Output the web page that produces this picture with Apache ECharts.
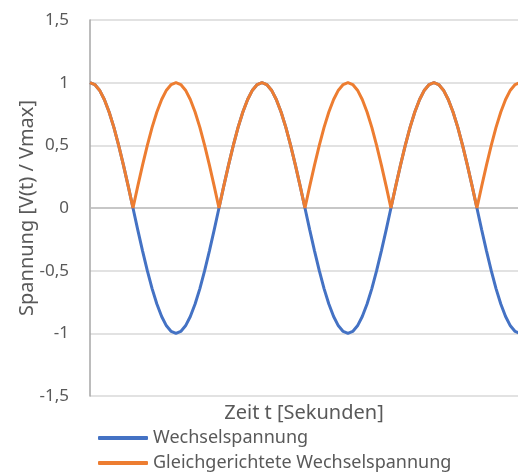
<!DOCTYPE html>
<html>
<head>
<meta charset="utf-8">
<script src="https://cdn.jsdelivr.net/npm/echarts@6/dist/echarts.min.js"></script>
<style>html,body{margin:0;padding:0;background:#fff}#c{width:518px;height:476px}</style>
</head>
<body>
<div id="c"></div>
<script>
// Zeit (Phasenwinkel in Grad, Periode = 360)
var zeit = [0,10,20,30,40,50,60,70,80,90,100,110,120,130,140,150,160,170,180,
  190,200,210,220,230,240,250,260,270,280,290,300,310,320,330,340,350,360,
  370,380,390,400,410,420,430,440,450,460,470,480,490,500,510,520,530,540,
  550,560,570,580,590,600,610,620,630,640,650,660,670,680,690,700,710,720,
  730,740,750,760,770,780,790,800,810,820,830,840,850,860,870,880,890,900];
var wechselspannung = [1,0.985,0.94,0.866,0.766,0.643,0.5,0.342,0.174,0,
  -0.174,-0.342,-0.5,-0.643,-0.766,-0.866,-0.94,-0.985,-1,
  -0.985,-0.94,-0.866,-0.766,-0.643,-0.5,-0.342,-0.174,0,
  0.174,0.342,0.5,0.643,0.766,0.866,0.94,0.985,1,
  0.985,0.94,0.866,0.766,0.643,0.5,0.342,0.174,0,
  -0.174,-0.342,-0.5,-0.643,-0.766,-0.866,-0.94,-0.985,-1,
  -0.985,-0.94,-0.866,-0.766,-0.643,-0.5,-0.342,-0.174,0,
  0.174,0.342,0.5,0.643,0.766,0.866,0.94,0.985,1,
  0.985,0.94,0.866,0.766,0.643,0.5,0.342,0.174,0,
  -0.174,-0.342,-0.5,-0.643,-0.766,-0.866,-0.94,-0.985,-1];
var gleichgerichtet = [1,0.985,0.94,0.866,0.766,0.643,0.5,0.342,0.174,0,
  0.174,0.342,0.5,0.643,0.766,0.866,0.94,0.985,1,
  0.985,0.94,0.866,0.766,0.643,0.5,0.342,0.174,0,
  0.174,0.342,0.5,0.643,0.766,0.866,0.94,0.985,1,
  0.985,0.94,0.866,0.766,0.643,0.5,0.342,0.174,0,
  0.174,0.342,0.5,0.643,0.766,0.866,0.94,0.985,1,
  0.985,0.94,0.866,0.766,0.643,0.5,0.342,0.174,0,
  0.174,0.342,0.5,0.643,0.766,0.866,0.94,0.985,1,
  0.985,0.94,0.866,0.766,0.643,0.5,0.342,0.174,0,
  0.174,0.342,0.5,0.643,0.766,0.866,0.94,0.985,1];
var seriesNames = ['Wechselspannung', 'Gleichgerichtete Wechselspannung'];
var yMin = -1.5, yMax = 1.5, yStep = 0.5;

function pairs(ys){ return zeit.map(function(t,i){ return [t, ys[i]]; }); }
var FONT = 'Noto Sans';
function legendFor(name, top){
  return {
    orient: 'horizontal', left: 98, top: top, padding: 0, itemWidth: 50, itemHeight: 4,
    icon: 'roundRect',
    textStyle: { color: '#595959', fontSize: 18, fontFamily: FONT, padding: [0,0,0,0] },
    data: [name]
  };
}
var chart = echarts.init(document.getElementById('c'));
chart.setOption({
  animation: false,
  backgroundColor: '#fff',
  grid: { left: 90, right: 0, top: 20, bottom: 80, containLabel: false },
  xAxis: {
    type: 'value', min: 0, max: 896,
    name: 'Zeit t [Sekunden]', nameLocation: 'middle', nameGap: 7, nameMoveOverlap: false,
    nameTextStyle: { color: '#595959', fontSize: 20, fontFamily: FONT },
    axisLine: { show: true, lineStyle: { color: '#bfbfbf', width: 1.5 } },
    axisTick: { show: false }, axisLabel: { show: false }, splitLine: { show: false }
  },
  yAxis: {
    type: 'value', min: yMin, max: yMax, interval: yStep,
    name: 'Spannung [V(t) / Vmax]', nameLocation: 'middle', nameGap: 53, nameRotate: 90,
    nameMoveOverlap: false,
    nameTextStyle: { color: '#595959', fontSize: 20, fontFamily: FONT },
    axisLine: { show: true, lineStyle: { color: '#a6a6a6', width: 1.5 } },
    axisTick: { show: false },
    axisLabel: { color: '#595959', fontSize: 17, fontFamily: FONT, margin: 21,
      formatter: function(v){ return String(Math.round(v*10)/10).replace('.', ','); } },
    splitLine: { show: true, lineStyle: { color: '#d9d9d9', width: 1.5 } }
  },
  legend: [ legendFor(seriesNames[0], 429), legendFor(seriesNames[1], 454) ],
  series: [
    { name: seriesNames[0], type: 'line', data: pairs(wechselspannung), showSymbol: false, smooth: false,
      lineStyle: { color: '#4472C4', width: 3 }, itemStyle: { color: '#4472C4' } },
    { name: seriesNames[1], type: 'line', data: pairs(gleichgerichtet), showSymbol: false, smooth: false,
      lineStyle: { color: '#ED7D31', width: 3 }, itemStyle: { color: '#ED7D31' } }
  ]
});
</script>
</body>
</html>
